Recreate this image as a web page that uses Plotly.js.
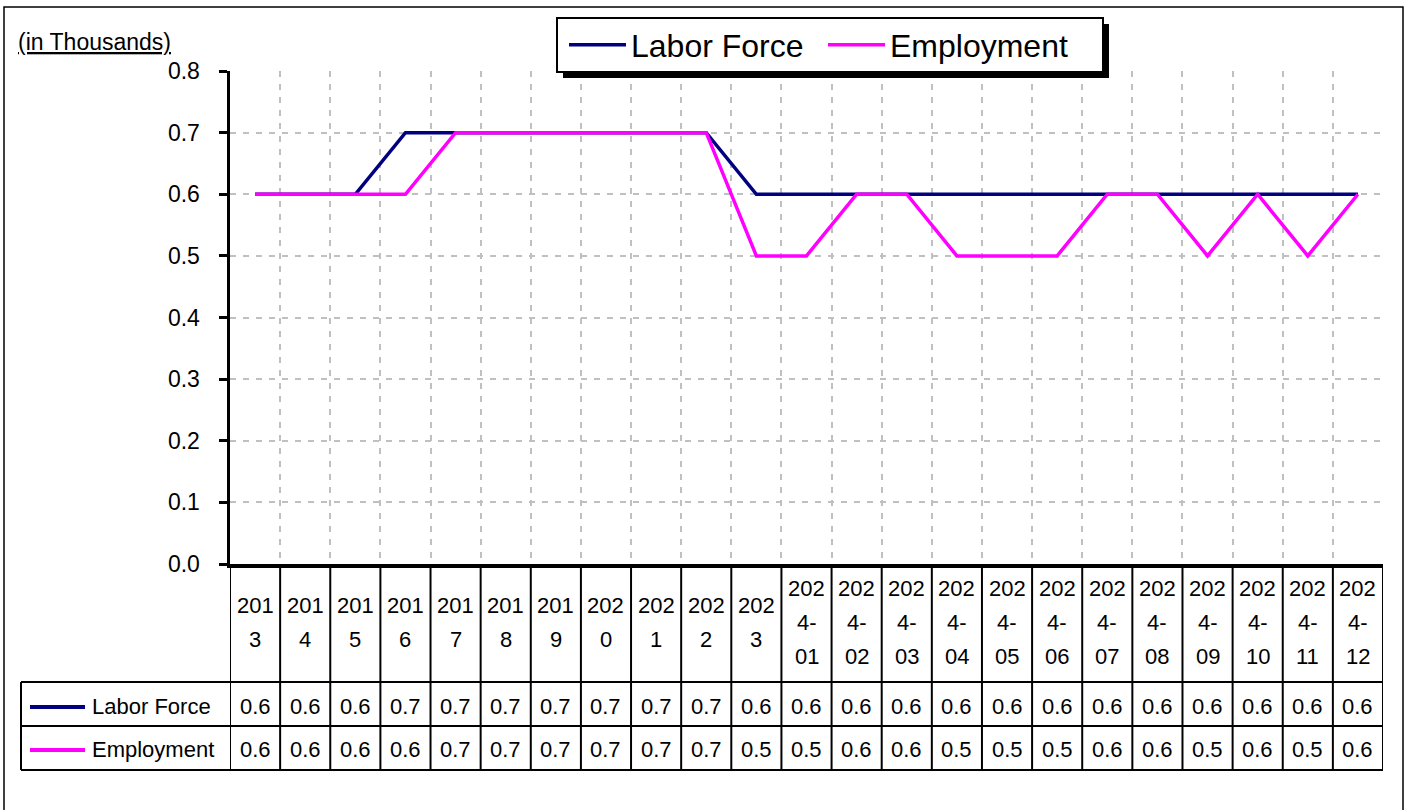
<!DOCTYPE html>
<html>
<head>
<meta charset="utf-8">
<script src="https://cdn.plot.ly/plotly-3.0.1.min.js"></script>
<style>html,body{margin:0;padding:0;background:#fff;}#chart{width:1411px;height:810px;}</style>
</head>
<body>
<div id="chart"></div>
<script>
// ---- data ----
const categories = ["2013","2014","2015","2016","2017","2018","2019","2020","2021","2022","2023",
  "2024-01","2024-02","2024-03","2024-04","2024-05","2024-06","2024-07","2024-08","2024-09","2024-10","2024-11","2024-12"];
const laborForce = [0.6,0.6,0.6,0.7,0.7,0.7,0.7,0.7,0.7,0.7,0.6,0.6,0.6,0.6,0.6,0.6,0.6,0.6,0.6,0.6,0.6,0.6,0.6];
const employment = [0.6,0.6,0.6,0.6,0.7,0.7,0.7,0.7,0.7,0.7,0.5,0.5,0.6,0.6,0.5,0.5,0.5,0.6,0.6,0.5,0.6,0.5,0.6];
const seriesNames = ["Labor Force","Employment"];
const seriesColors = ["#000080","#FF00FF"];
const yTicks = [0,0.1,0.2,0.3,0.4,0.5,0.6,0.7,0.8];
const unitLabel = "(in Thousands)";

// ---- geometry (pixels) ----
const W = 1411, H = 810;
const L = 230, R = 1383, T = 71, B = 564;
const pw = R - L, ph = B - T;
const px = v => (v - L) / pw;      // pixel x -> paper
const py = v => (B - v) / ph;      // pixel y -> paper
const FONT = "Liberation Sans, Arial, sans-serif";

const n = categories.length;
const shapes = [];
const annotations = [];

// outer border
shapes.push({type:"rect", xref:"paper", yref:"paper", x0:px(4), x1:px(1403), y0:py(814), y1:py(7),
  line:{color:"#000", width:1.5}, fillcolor:"rgba(0,0,0,0)", layer:"below"});

// table geometry
const headerBottom = 682, row1Bottom = 726, row2Bottom = 770, tableLeft = 21;
const tLine = {color:"#000", width:2};
for (let i = 0; i <= n; i++) {
  shapes.push({type:"line", xref:"x", yref:"paper", x0:i-0.5, x1:i-0.5, y0:py(B), y1:py(row2Bottom), line:tLine});
}
[headerBottom, row1Bottom, row2Bottom].forEach(yy => {
  shapes.push({type:"line", xref:"paper", yref:"paper", x0:px(tableLeft), x1:1, y0:py(yy), y1:py(yy), line:tLine});
});
shapes.push({type:"line", xref:"paper", yref:"paper", x0:px(tableLeft), x1:px(tableLeft), y0:py(headerBottom), y1:py(row2Bottom), line:tLine});

// header labels (wrapped like the source)
function wrap(s){ return s.length > 4 ? [s.slice(0,3), s.slice(3,5), s.slice(5)] : [s.slice(0,3), s.slice(3)]; }
const headerCenter = 622, lineStep = 34;
categories.forEach((c, i) => {
  const parts = wrap(c);
  parts.forEach((p, k) => {
    const yy = headerCenter + (k - (parts.length - 1) / 2) * lineStep;
    annotations.push({xref:"x", yref:"paper", x:i, y:py(yy), text:p, showarrow:false,
      xanchor:"center", yanchor:"middle", font:{family:FONT, size:22, color:"#000"}});
  });
});

// value rows
const rowCenters = [706, 749];
[laborForce, employment].forEach((vals, r) => {
  vals.forEach((v, i) => {
    annotations.push({xref:"x", yref:"paper", x:i, y:py(rowCenters[r]), text:v.toFixed(1), showarrow:false,
      xanchor:"center", yanchor:"middle", font:{family:FONT, size:22, color:"#000"}});
  });
  annotations.push({xref:"paper", yref:"paper", x:px(90), y:py(rowCenters[r]), text:seriesNames[r], showarrow:false,
    xanchor:"left", yanchor:"middle", font:{family:FONT, size:22, color:"#000"}});
  shapes.push({type:"line", xref:"paper", yref:"paper", x0:px(30), x1:px(85), y0:py(rowCenters[r]+1), y1:py(rowCenters[r]+1),
    line:{color:seriesColors[r], width:4}});
});

// unit label
annotations.push({xref:"paper", yref:"paper", x:px(16), y:py(42), text:"<u>"+unitLabel+"</u>", showarrow:false,
  xanchor:"left", yanchor:"middle", font:{family:FONT, size:23, color:"#000"}});

// legend box + shadow
shapes.push({type:"rect", xref:"paper", yref:"paper", x0:px(563), x1:px(1109), y0:py(78), y1:py(24),
  line:{width:0}, fillcolor:"#000", layer:"above"});
shapes.push({type:"rect", xref:"paper", yref:"paper", x0:px(557), x1:px(1103), y0:py(72), y1:py(18),
  line:{width:2, color:"#000"}, fillcolor:"#fff", layer:"above"});

const traces = [laborForce, employment].map((vals, r) => ({
  type:"scatter", mode:"lines", x:categories, y:vals, name:seriesNames[r],
  line:{color:seriesColors[r], width:3.5}, cliponaxis:false
}));

const layout = {
  width:W, height:H,
  margin:{l:L, r:W-R, t:T, b:H-B, pad:0},
  paper_bgcolor:"#fff", plot_bgcolor:"#fff",
  font:{family:FONT, size:22, color:"#000"},
  showlegend:true,
  legend:{orientation:"h", x:px(564), y:py(45), xanchor:"left", yanchor:"middle",
    bgcolor:"rgba(0,0,0,0)", borderwidth:0, font:{family:FONT, size:32, color:"#000"},
    itemwidth:57, entrywidth:187, tracegroupgap:0},
  xaxis:{type:"category", range:[-0.5, n-0.5], tickson:"boundaries", showticklabels:false, ticks:"",
    showgrid:true, gridcolor:"#c0c0c0", griddash:"6px,7px", gridwidth:2,
    showline:true, linecolor:"#000", linewidth:3.5, zeroline:false, fixedrange:true},
  yaxis:{range:[0,0.8], tickvals:yTicks, tickformat:".1f", ticks:"outside", ticklen:8, tickwidth:3, tickcolor:"#000",
    showline:true, linecolor:"#000", linewidth:3.5, showgrid:true, gridcolor:"#c0c0c0", griddash:"6px,7px", gridwidth:2,
    zeroline:false, tickfont:{family:FONT, size:23}, ticklabelstandoff:14, fixedrange:true},
  shapes:shapes,
  annotations:annotations
};

Plotly.newPlot("chart", traces, layout, {displayModeBar:false, staticPlot:true});
</script>
</body>
</html>
